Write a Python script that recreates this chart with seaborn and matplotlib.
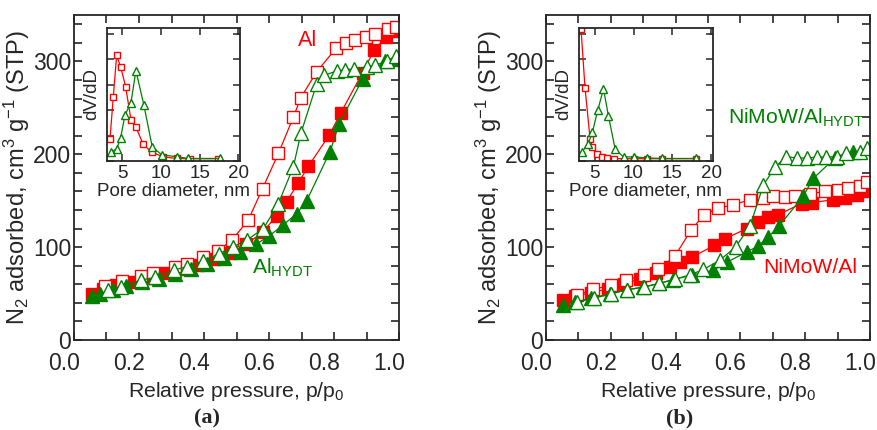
import matplotlib
matplotlib.use('Agg')
import matplotlib.pyplot as plt
import matplotlib.transforms as mtransforms
from matplotlib.ticker import MultipleLocator, NullFormatter
import seaborn as sns

# ---------------- data ----------------
# panel (a): Al and Al_HYDT isotherms
a_al_ads_x = [0.054, 0.09, 0.13, 0.18, 0.23, 0.28, 0.33, 0.38, 0.43, 0.48, 0.53, 0.58,
              0.624, 0.654, 0.69, 0.721, 0.786, 0.82, 0.888, 0.923, 0.96, 0.99]
a_al_ads_y = [50, 55, 59, 63, 67, 72, 76, 81, 87, 94, 103, 116,
              134, 149, 169, 187, 221, 244, 288, 312, 326, 333]
a_al_des_x = [0.095, 0.147, 0.206, 0.244, 0.311, 0.349, 0.396, 0.444, 0.487, 0.536, 0.58,
              0.629, 0.675, 0.698, 0.747, 0.806, 0.837, 0.865, 0.898, 0.926, 0.967, 0.99]
a_al_des_y = [58, 64, 69, 72.5, 79, 82, 89, 96, 108, 129, 163,
              201, 240, 261, 289, 314, 319.5, 323, 326.5, 330, 335, 337]
a_hy_ads_x = [0.054, 0.08, 0.12, 0.16, 0.21, 0.26, 0.31, 0.36, 0.41, 0.46, 0.51, 0.56,
              0.6, 0.644, 0.685, 0.716, 0.788, 0.816, 0.888, 0.957, 0.99]
a_hy_ads_y = [47, 50, 54, 58, 62, 66, 71, 76, 82, 88, 95, 103,
              112, 124, 136, 150, 203, 233, 281, 300, 303]
a_hy_des_x = [0.106, 0.144, 0.205, 0.249, 0.308, 0.349, 0.398, 0.447, 0.49, 0.531, 0.583,
              0.629, 0.675, 0.698, 0.747, 0.77, 0.81, 0.835, 0.86, 0.9, 0.926, 0.962, 0.99]
a_hy_des_y = [54, 57.5, 64.5, 67.5, 75.5, 79, 85.5, 93, 100.5, 107.5, 120,
              147, 186.5, 222.5, 276, 285, 290, 291, 292, 294, 296, 300, 306]

# panel (a) inset: pore size distributions
a_psd_al_x = [3.39, 3.81, 4.25, 4.77, 5.41, 6.1, 6.74, 7.68, 8.77, 10.3, 12.0, 13.7, 17.4]
a_psd_al_y = [0.88, 2.52, 4.16, 3.70, 2.93, 1.62, 1.33, 0.66, 0.35, 0.16, 0.10, 0.09, 0.09]
a_psd_hy_x = [3.52, 4.25, 4.77, 5.32, 6.1, 6.74, 7.77, 8.85, 10.1, 12.0, 13.5, 17.6]
a_psd_hy_y = [0.37, 0.47, 0.92, 1.81, 2.3, 3.56, 2.2, 0.56, 0.24, 0.17, 0.10, 0.10]

# panel (b): NiMoW/Al and NiMoW/Al_HYDT isotherms
b_al_ads_x = [0.053, 0.09, 0.14, 0.19, 0.24, 0.29, 0.34, 0.383, 0.414, 0.45, 0.52, 0.552,
              0.62, 0.655, 0.686, 0.717, 0.789, 0.82, 0.887, 0.923, 0.959, 0.99]
b_al_ads_y = [43, 47, 51, 55, 60, 66, 72, 79, 84, 89, 102, 109,
              120, 127, 133, 135, 147, 148, 151, 153, 156, 160]
b_al_des_x = [0.095, 0.146, 0.2, 0.247, 0.302, 0.347, 0.398, 0.447, 0.488, 0.532, 0.576,
              0.63, 0.671, 0.7, 0.738, 0.769, 0.815, 0.861, 0.902, 0.933, 0.969, 0.99]
b_al_des_y = [48.5, 54.5, 59, 64.5, 70, 76, 90.5, 118, 135, 142, 145.5,
              151, 153, 155, 154.5, 155.5, 157.5, 160, 162, 163.5, 165.5, 170]
b_hy_ads_x = [0.053, 0.09, 0.14, 0.198, 0.25, 0.3, 0.35, 0.393, 0.45, 0.516, 0.56,
              0.62, 0.655, 0.686, 0.72, 0.794, 0.825, 0.892, 0.948]
b_hy_ads_y = [38, 41, 45, 50, 54, 57, 61, 65, 70, 75, 84,
              95, 101, 111, 123, 155, 174, 196, 202]
b_hy_des_x = [0.097, 0.148, 0.2, 0.249, 0.302, 0.35, 0.398, 0.444, 0.486, 0.537, 0.586,
              0.63, 0.671, 0.707, 0.741, 0.774, 0.805, 0.836, 0.864, 0.897, 0.926, 0.969, 0.99]
b_hy_des_y = [41, 45, 49.5, 54, 57, 61, 65.5, 70, 76, 86, 100.5,
              123, 167, 186, 197.5, 196, 196, 197, 197, 197.5, 201, 202, 207]

# panel (b) inset
b_psd_al_x = [3.26, 3.77, 4.42, 4.72, 5.28, 5.93, 6.57, 7.43, 10.0, 11.7, 13.7, 18.0]
b_psd_al_y = [5.2, 2.89, 0.88, 0.55, 0.29, 0.16, 0.12, 0.09, 0.09, 0.09, 0.09, 0.09]
b_psd_hy_x = [3.35, 4.2, 4.72, 5.41, 6.14, 6.78, 7.65, 8.72, 10.1, 11.7, 13.6, 18.0]
b_psd_hy_y = [0.35, 0.68, 1.14, 2.0, 2.85, 1.77, 0.46, 0.16, 0.16, 0.12, 0.10, 0.10]

RED = '#ff0000'
GREEN = '#008000'

# ---------------- style ----------------
sns.set_style('ticks')
plt.rcParams['font.family'] = ['Liberation Sans', 'DejaVu Sans']
plt.rcParams['mathtext.fontset'] = 'custom'
plt.rcParams['mathtext.rm'] = 'Liberation Sans'
plt.rcParams['mathtext.it'] = 'Liberation Sans:italic'
plt.rcParams['mathtext.bf'] = 'Liberation Sans:bold'
plt.rcParams['axes.linewidth'] = 1.3

fig = plt.figure(figsize=(8.78, 4.30), dpi=100)
W, H = 878, 430


def px_axes(l, t, r, b):
    return fig.add_axes([l / W, (H - b) / H, (r - l) / W, (b - t) / H])


def series(ax, x, y, color, marker, filled, ms):
    sns.lineplot(x=x, y=y, ax=ax, color=color, marker=marker, markersize=ms,
                 markerfacecolor=color if filled else 'white',
                 markeredgecolor=color, markeredgewidth=1.0,
                 linewidth=0.9, errorbar=None, clip_on=True)


def style_main(ax):
    ax.set_xlim(0, 1.0)
    ax.set_ylim(0, 350)
    ax.xaxis.set_major_locator(MultipleLocator(0.2))
    ax.xaxis.set_minor_locator(MultipleLocator(0.1))
    ax.yaxis.set_major_locator(MultipleLocator(100))
    ax.yaxis.set_minor_locator(MultipleLocator(20))
    ax.xaxis.set_major_formatter(lambda v, p: f"{v:.1f}")
    ax.tick_params(which='both', direction='in', top=True, right=True,
                   length=6, width=1.2, labelsize=16.5)
    ax.tick_params(axis='x', pad=9)
    ax.tick_params(axis='y', pad=2)
    ax.set_xlabel('Relative pressure, p/p$_0$', fontsize=15.3, labelpad=3)
    ax.set_ylabel('N$_2$ adsorbed, cm$^3$ g$^{-1}$ (STP)', fontsize=17, labelpad=1)
    # the original figure prints the x tick labels slightly left of the ticks
    off = mtransforms.ScaledTranslation(-10 / 100, 0, fig.dpi_scale_trans)
    for lab in ax.get_xticklabels():
        lab.set_transform(lab.get_transform() + off)


def style_inset(ax):
    ax.set_xlim(3, 20.2)
    ax.set_ylim(0, 5.24)
    ax.xaxis.set_major_locator(MultipleLocator(5))
    ax.yaxis.set_major_locator(MultipleLocator(1))
    ax.yaxis.set_major_formatter(NullFormatter())
    ax.tick_params(which='both', direction='in', top=True, right=True,
                   length=5, width=1.1, labelsize=13.5, pad=3)
    ax.set_xlabel('Pore diameter, nm', fontsize=13.5, labelpad=0)
    ax.set_ylabel('dV/dD', fontsize=13.5, labelpad=2)


# ---------------- panel (a) ----------------
ax_a = px_axes(74, 15, 399, 340)
series(ax_a, a_al_ads_x, a_al_ads_y, RED, 's', True, 8.5)
series(ax_a, a_al_des_x, a_al_des_y, RED, 's', False, 8.5)
series(ax_a, a_hy_ads_x, a_hy_ads_y, GREEN, '^', True, 10)
series(ax_a, a_hy_des_x, a_hy_des_y, GREEN, '^', False, 10)
style_main(ax_a)
ax_a.text(0.72, 323, 'Al', color=RED, fontsize=15.5, ha='center', va='center')
ax_a.text(0.548, 78, r'Al$_\mathregular{HYDT}$', color=GREEN, fontsize=15.2,
          ha='left', va='center')

in_a = px_axes(107, 28, 240, 161)
series(in_a, a_psd_al_x, a_psd_al_y, RED, 's', False, 5)
series(in_a, a_psd_hy_x, a_psd_hy_y, GREEN, '^', False, 6)
style_inset(in_a)

# ---------------- panel (b) ----------------
ax_b = px_axes(546, 15, 870, 340)
series(ax_b, b_al_ads_x, b_al_ads_y, RED, 's', True, 8.5)
series(ax_b, b_al_des_x, b_al_des_y, RED, 's', False, 8.5)
series(ax_b, b_hy_ads_x, b_hy_ads_y, GREEN, '^', True, 10)
series(ax_b, b_hy_des_x, b_hy_des_y, GREEN, '^', False, 10)
style_main(ax_b)
ax_b.text(0.562, 239, r'NiMoW/Al$_\mathregular{HYDT}$', color=GREEN, fontsize=15.2,
          ha='left', va='center')
ax_b.text(0.67, 78, 'NiMoW/Al', color=RED, fontsize=15.2, ha='left', va='center')

in_b = px_axes(579, 28, 713, 161)
series(in_b, b_psd_al_x, b_psd_al_y, RED, 's', False, 5)
series(in_b, b_psd_hy_x, b_psd_hy_y, GREEN, '^', False, 6)
style_inset(in_b)

# panel captions
fig.text(207 / W, (H - 418) / H, '(a)', fontsize=16, fontweight='bold',
         family='Liberation Serif', ha='center', va='center')
fig.text(680 / W, (H - 418) / H, '(b)', fontsize=16, fontweight='bold',
         family='Liberation Serif', ha='center', va='center')

fig.savefig('out.png', dpi=100)
